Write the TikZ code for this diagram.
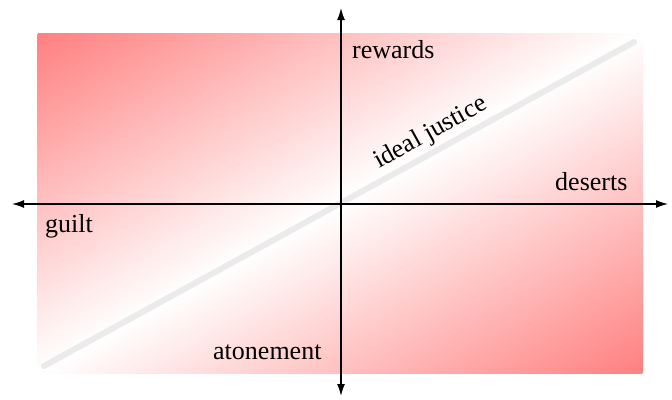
\documentclass[tikz,border=0pt]{standalone}
\usepackage{fontspec}
\setmainfont{Liberation Serif}
\usetikzlibrary{arrows.meta}
\pgfdeclareverticalshading{diagshade}{860pt}{color(0pt)=(red!50); color(296.5pt)=(white); color(593pt)=(red!50)}
\tikzset{
  axis/.style={line width=1.4pt, {Latex[length=12pt,width=8pt]}-{Latex[length=12pt,width=8pt]}},
  lbl/.style={font=\fontsize{26}{30}\selectfont, inner sep=0pt, anchor=base west},
  justice/.style={line width=6pt, line cap=round, draw=black!8}
}
\begin{document}
\begin{tikzpicture}[x=1pt,y=-1pt]
\useasboundingbox (0,0) rectangle (672,399);
\coordinate (bl) at (37,373);
\coordinate (tr) at (643,33);
\begin{scope}
  \clip (bl) rectangle (tr);
  \node[inner sep=0pt, outer sep=0pt, rotate=29.29] (bg) at (340,203) {\pgfuseshading{diagshade}};
\end{scope}
\coordinate (js) at (44,366);
\coordinate (je) at (634,42);
\draw[justice] (js) -- (je);
\coordinate (xl) at (12,204);
\coordinate (xr) at (668,204);
\coordinate (yt) at (341,8);
\coordinate (yb) at (341,396);
\draw[axis] (xl) -- (xr);
\draw[axis] (yb) -- (yt);
\node[lbl] (rew) at (352,58) {rewards};
\node[lbl] (des) at (555,190) {deserts};
\node[lbl] (gui) at (45,232) {guilt};
\node[lbl] (ato) at (213,359) {atonement};
\node[lbl, rotate=29] (ij) at (379,169) {ideal justice};
\end{tikzpicture}
\end{document}
